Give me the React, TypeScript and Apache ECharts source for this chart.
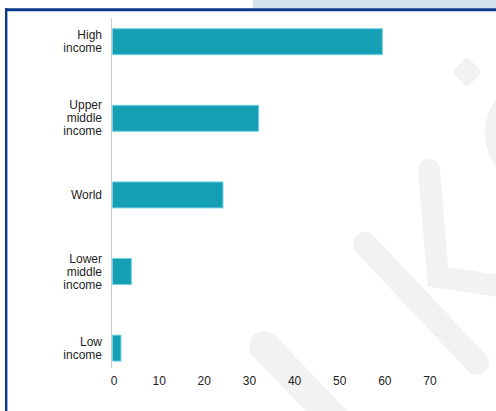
import React, { useEffect, useRef } from "react";
import * as echarts from "echarts";

const categories = [
  "High\nincome",
  "Upper\nmiddle\nincome",
  "World",
  "Lower\nmiddle\nincome",
  "Low\nincome",
];
const values = [60, 32.6, 24.7, 4.4, 2.1];
const xMin = 0;
const xMax = 70;
const xInterval = 10;

const FONT = '"Liberation Sans", Arial, Helvetica, sans-serif';
const WM = "#f2f2f2";

export default function App() {
  const ref = useRef<HTMLDivElement>(null);
  useEffect(() => {
    if (!ref.current) return;
    const chart = echarts.init(ref.current, null, { renderer: "svg" });
    chart.setOption({
      animation: false,
      backgroundColor: "#ffffff",
      grid: { left: 112, width: 316, top: 3.4, height: 383 },
      xAxis: {
        type: "value",
        min: xMin,
        max: xMax,
        interval: xInterval,
        offset: -18,
        axisLine: { show: false },
        axisTick: { show: false },
        splitLine: { show: false },
        axisLabel: {
          margin: 7,
          color: "#222",
          fontSize: 12,
          fontFamily: FONT,
          padding: [0, 0, 0, 4],
        },
      },
      yAxis: {
        type: "category",
        data: categories,
        inverse: true,
        axisLine: { show: false },
        axisTick: { show: false },
        axisLabel: {
          margin: 10,
          color: "#1e1e1e",
          fontSize: 12,
          lineHeight: 13,
          fontFamily: FONT,
          align: "right",
        },
      },
      graphic: [
        { type: "rect", z: -10, shape: { x: 253, y: 0, width: 243, height: 8.5 }, style: { fill: "#d3e3ec" } },
        { type: "rect", z: -9, shape: { x: 5, y: 8.3, width: 491, height: 3 }, style: { fill: "#0c3a8a" } },
        { type: "rect", z: -9, shape: { x: 5, y: 8.3, width: 2.4, height: 403 }, style: { fill: "#0c3a8a" } },
        { type: "line", z: -8, shape: { x1: 365, y1: 244, x2: 477, y2: 363 }, style: { stroke: WM, lineWidth: 24, lineCap: "round" } },
        { type: "line", z: -8, shape: { x1: 264, y1: 346, x2: 345, y2: 430 }, style: { stroke: WM, lineWidth: 30, lineCap: "round" } },
        { type: "polyline", z: -8, shape: { points: [[429, 170], [438, 277], [505, 287]] }, style: { stroke: WM, lineWidth: 22, lineJoin: "miter", lineCap: "round", fill: null } },
        { type: "ring", z: -8, shape: { cx: 543, cy: 133, r: 58, r0: 36 }, style: { fill: WM } },
        { type: "rect", z: -8, x: 467, y: 72, rotation: Math.PI / 4, shape: { x: -11, y: -11, width: 22, height: 22, r: 5 }, style: { fill: WM } },
        { type: "line", z: 5, shape: { x1: 111.5, y1: 18, x2: 111.5, y2: 368 }, style: { stroke: "#cccccc", lineWidth: 1 } },
      ],
      series: [
        {
          type: "bar",
          data: values,
          barWidth: 27,
          itemStyle: { color: "#149fb5", borderColor: "#74d3e2", borderWidth: 1 },
        },
      ],
    });
    return () => chart.dispose();
  }, []);
  return (
    <div
      ref={ref}
      style={{ position: "fixed", left: 0, top: 0, width: 496, height: 411 }}
    />
  );
}
